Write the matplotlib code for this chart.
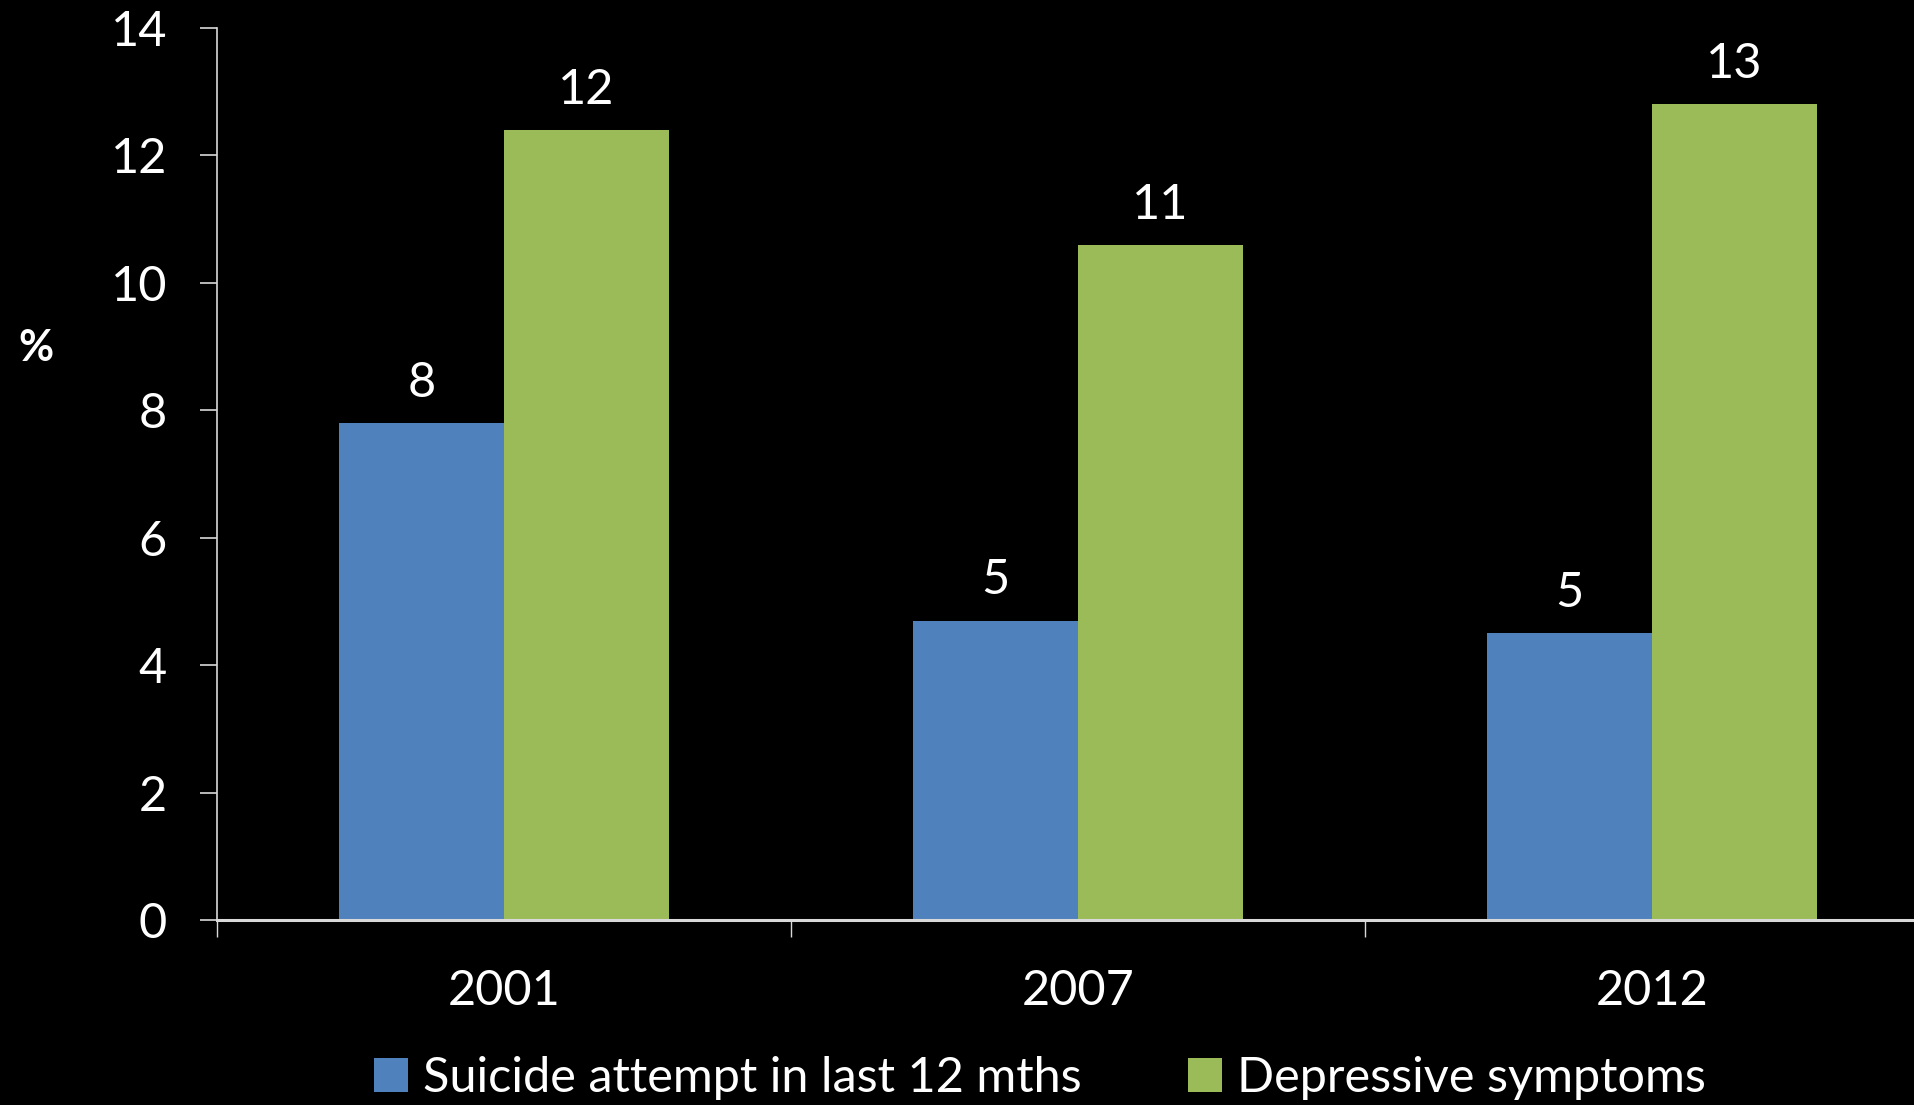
import matplotlib
matplotlib.use("Agg")
import matplotlib.pyplot as plt
from matplotlib.patches import Patch

# chart data
years = ["2001", "2007", "2012"]
suicide_attempt = [7.8, 4.7, 4.5]
depressive = [12.4, 10.6, 12.8]
suicide_labels = ["8", "5", "5"]
depressive_labels = ["12", "11", "13"]
series_names = ["Suicide attempt in last 12 mths", "Depressive symptoms"]

BLUE = "#4F81BD"
GREEN = "#9BBB59"
FG = "white"
FONT = ["Lato", "DejaVu Sans"]

plt.rcParams["font.family"] = FONT
plt.rcParams["font.size"] = 35

fig = plt.figure(figsize=(19.15, 11.05), dpi=100, facecolor="black")
ax = fig.add_axes([0.1133, 0.1674, 0.8992, 0.8073], facecolor="black")

x = list(range(len(years)))
w = 0.287
blue_x = [i - w / 2 for i in x]
green_x = [i + w / 2 for i in x]
ax.bar(blue_x, suicide_attempt, width=w, color=BLUE, zorder=2)
ax.bar(green_x, depressive, width=w, color=GREEN, zorder=2)

for bx, v, lab in zip(blue_x, suicide_attempt, suicide_labels):
    ax.annotate(lab, (bx, v), xytext=(0, 13), textcoords="offset points",
                ha="center", va="bottom", color=FG)
for gx, v, lab in zip(green_x, depressive, depressive_labels):
    ax.annotate(lab, (gx, v), xytext=(0, 13), textcoords="offset points",
                ha="center", va="bottom", color=FG)

ax.set_xlim(-0.5, 2.5)
ax.set_ylim(0, 14)
ax.set_yticks(range(0, 15, 2))

# boundary ticks (major) and category labels (minor)
ax.set_xticks([-0.5, 0.5, 1.5, 2.5])
ax.set_xticklabels([])
ax.set_xticks(x, minor=True)
ax.set_xticklabels(years, minor=True)
ax.tick_params(axis="x", which="major", length=12, width=1, color="#d9d9d9",
               direction="out")
ax.tick_params(axis="x", which="minor", length=0, pad=35, colors=FG)
ax.tick_params(axis="y", length=12, width=1.2, color="#d9d9d9", pad=24,
               colors=FG)

for side in ["top", "right"]:
    ax.spines[side].set_visible(False)
ax.spines["left"].set_color("#d9d9d9")
ax.spines["left"].set_linewidth(1.2)
ax.spines["bottom"].set_color("#d9d9d9")
ax.spines["bottom"].set_linewidth(2.2)

fig.text(0.019, 0.685, "%", color=FG, fontsize=31, fontweight="bold",
         ha="center", va="center")

handles = [Patch(facecolor=BLUE), Patch(facecolor=GREEN)]
fig.legend(handles, series_names, loc="center", bbox_to_anchor=(0.543, 0.024),
           ncol=2, frameon=False, labelcolor=FG, handlelength=0.7,
           handleheight=0.7, handletextpad=0.3, columnspacing=2.2)

fig.savefig("out.png", facecolor="black")
